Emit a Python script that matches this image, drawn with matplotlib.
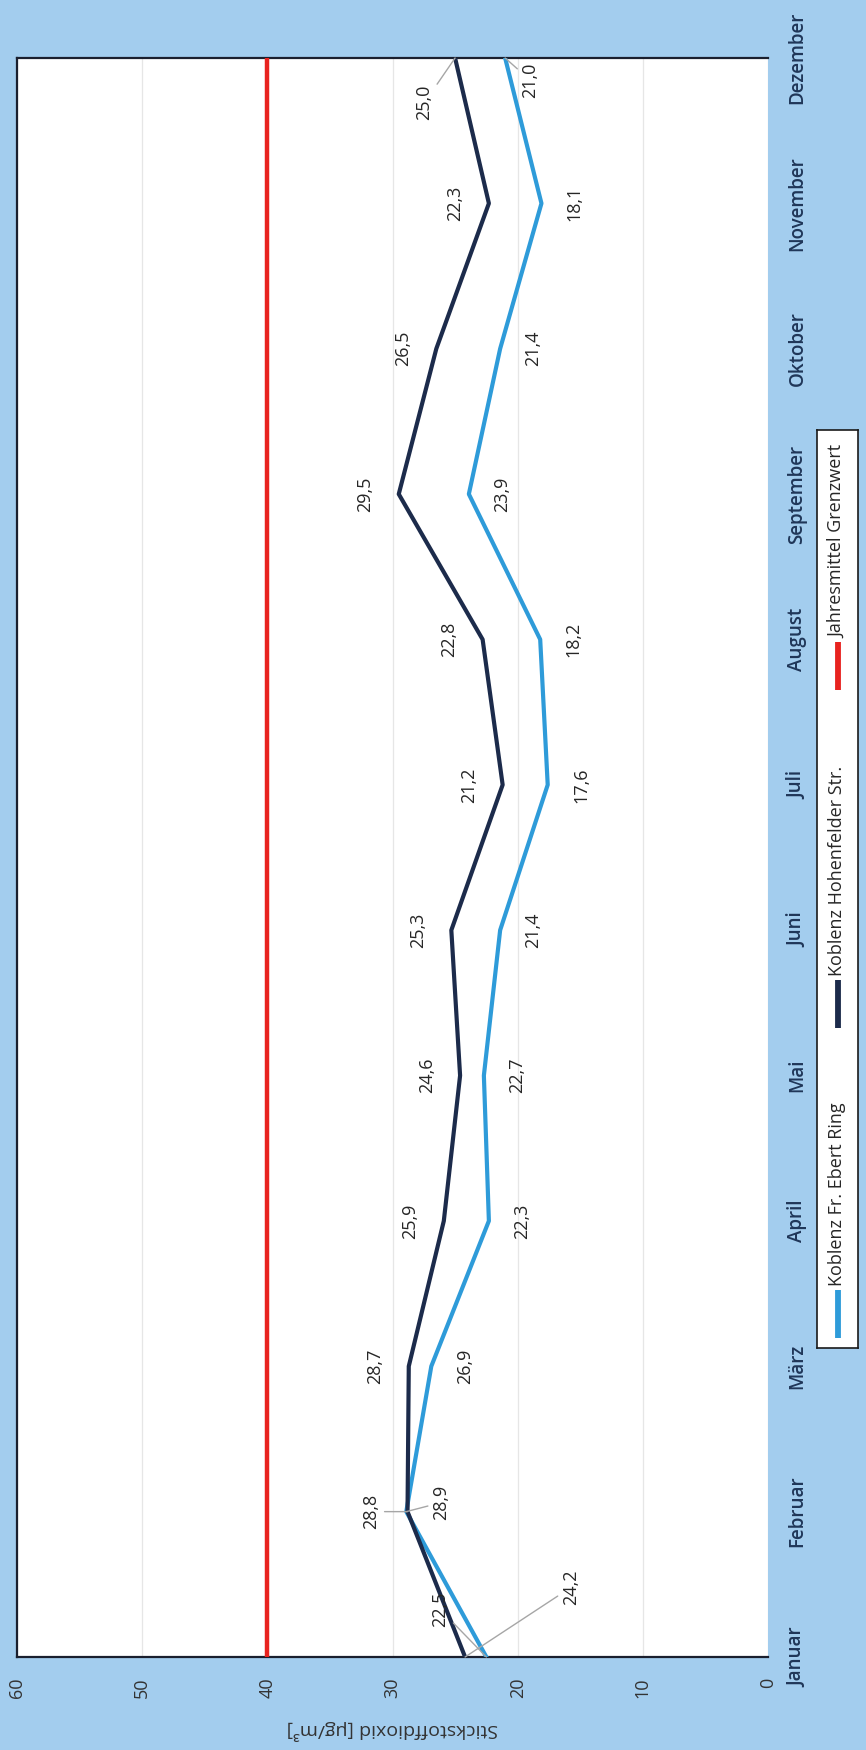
import matplotlib
matplotlib.use("Agg")
import matplotlib.pyplot as plt
from matplotlib.lines import Line2D

# ---- data ----
months = ["Januar", "Februar", "März", "April", "Mai", "Juni", "Juli",
          "August", "September", "Oktober", "November", "Dezember"]
ebert_ring = [22.5, 28.9, 26.9, 22.3, 22.7, 21.4, 17.6, 18.2, 23.9, 21.4, 18.1, 21.0]
hohenfelder = [24.2, 28.8, 28.7, 25.9, 24.6, 25.3, 21.2, 22.8, 29.5, 26.5, 22.3, 25.0]
grenzwert = [40] * 12
value_ticks = [0, 10, 20, 30, 40, 50, 60]
series_names = ["Koblenz Fr. Ebert Ring", "Koblenz Hohenfelder Str.", "Jahresmittel Grenzwert"]
axis_title = "Stickstoffdioxid [µg/m³]"

BG = "#a3cdee"
DARK = "#1c2b4b"
LIGHT = "#2e9bd9"
RED = "#e8231f"
TXT = "#262626"
MONTHC = "#1f3658"
FONT = ["Open Sans", "DejaVu Sans"]

plt.rcParams["font.family"] = FONT

W, H = 866, 1750
fig = plt.figure(figsize=(W / 100, H / 100), dpi=100, facecolor=BG)

# plot area in pixels (left, top, right, bottom)
L, T, R, B = 17, 58, 768, 1657
ax = fig.add_axes([L / W, (H - B) / H, (R - L) / W, (B - T) / H])
ax.set_facecolor("white")

idx = list(range(len(months)))
ax.set_xlim(60, 0)
ax.set_ylim(0, len(months) - 1)

ax.grid(axis="x", color="#e6e6e6", lw=0.9)
ax.set_axisbelow(True)

ax.plot(grenzwert, idx, color=RED, lw=3.2, solid_capstyle="butt", zorder=3)
ax.plot(ebert_ring, idx, color=LIGHT, lw=3.0, zorder=4)
ax.plot(hohenfelder, idx, color=DARK, lw=3.0, zorder=5)

# ticks
ax.set_xticks(value_ticks)
ax.set_xticklabels([str(v) for v in value_ticks])
ax.tick_params(axis="x", length=0, pad=15, labelsize=13, labelcolor="#333333",
               labelrotation=90)
ax.yaxis.set_ticks_position("right")
ax.set_yticks(idx)
ax.set_yticklabels(months)
ax.tick_params(axis="y", length=0, pad=14, labelsize=13.5, labelcolor=MONTHC,
               labelrotation=90)
for lbl in ax.get_yticklabels():
    lbl.set_va("center")
    lbl.set_ha("left")
    lbl.set_fontweight("semibold")
for lbl in ax.get_xticklabels():
    lbl.set_ha("center")
    lbl.set_va("top")

for s in ["left", "top", "bottom"]:
    ax.spines[s].set_color("#1a1f2e")
    ax.spines[s].set_linewidth(1.6)
ax.spines["right"].set_visible(False)

ax.text(0.5, -0.0457, axis_title, transform=ax.transAxes, rotation=180,
        ha="center", va="center", fontsize=14, color="#333333")

# data labels (offsets in points)
dark_off = {0: (76, 50), 1: (-26, 0), 11: (-22, -32)}
light_off = {0: (-33, 34), 1: (25, 6.5), 11: (18, -16)}
lead_dark = {0, 1, 11}
lead_light = {0, 1, 11}

def fmt(v):
    return f"{v:.1f}".replace(".", ",")

for i, v in enumerate(hohenfelder):
    off = dark_off.get(i, (-24, 0))
    ap = dict(arrowstyle="-", color="#a6a6a6", lw=1.0, shrinkA=1, shrinkB=0) if i in lead_dark else None
    ax.annotate(fmt(v), (v, i), xytext=off, textcoords="offset points",
                rotation=90, ha="center", va="center", fontsize=13, color=TXT,
                arrowprops=ap, zorder=6, annotation_clip=False)
for i, v in enumerate(ebert_ring):
    off = light_off.get(i, (24, 0))
    ap = dict(arrowstyle="-", color="#a6a6a6", lw=1.0, shrinkA=1, shrinkB=0) if i in lead_light else None
    ax.annotate(fmt(v), (v, i), xytext=off, textcoords="offset points",
                rotation=90, ha="center", va="center", fontsize=13, color=TXT,
                arrowprops=ap, zorder=6, annotation_clip=False)

# legend (drawn manually, rotated)
LL, LT, LR, LB = 817, 430, 858, 1348
lax = fig.add_axes([LL / W, (H - LB) / H, (LR - LL) / W, (LB - LT) / H])
lax.set_facecolor("white")
lax.set_xlim(0, LR - LL)
lax.set_ylim(LB - LT, 0)  # pixel coords from top of legend
lax.set_xticks([])
lax.set_yticks([])
for s in lax.spines.values():
    s.set_color("#1a1a1a")
    s.set_linewidth(1.2)

cx = (LR - LL) / 2
colors = [LIGHT, DARK, RED]
# handle (top, bottom) in image pixels
handles = [(1290, 1338), (980, 1028), (642, 690)]
for name, col, (ht, hb) in zip(series_names, colors, handles):
    lax.add_line(Line2D([cx, cx], [hb - LT, ht - LT], color=col, lw=4.2,
                        solid_capstyle="butt"))
    lax.text(cx, ht - LT - 4, name, rotation=90, ha="center", va="bottom",
             fontsize=13, color=TXT)

fig.savefig("out.png", dpi=100, facecolor=BG)
